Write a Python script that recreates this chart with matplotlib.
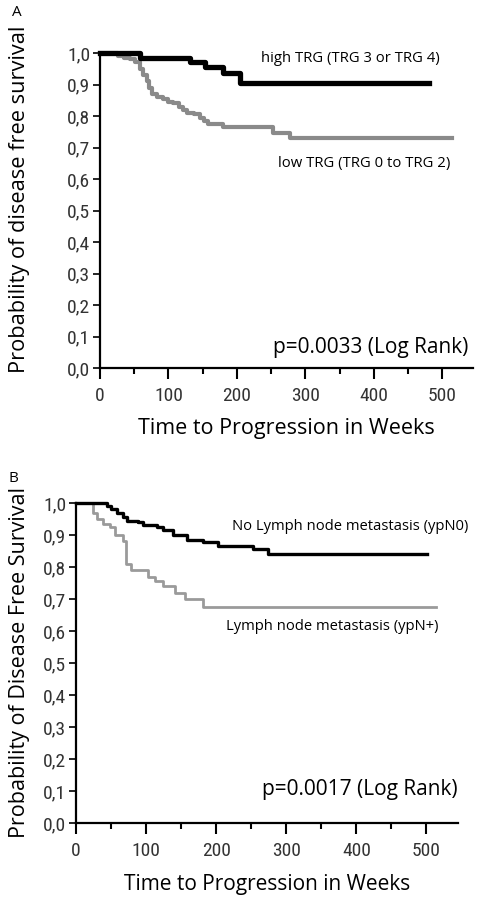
import matplotlib
matplotlib.use("Agg")
import matplotlib.pyplot as plt
from matplotlib.ticker import MultipleLocator, FixedLocator

# panel A: tumour regression grade
a_high_t = [0, 58, 131, 153, 180, 204, 480]
a_high_s = [1.0, 0.985, 0.97, 0.955, 0.935, 0.905, 0.905]
a_low_t = [0, 27, 35, 44, 51, 58, 63, 68, 72, 76, 84, 92, 100, 107, 115, 122,
           127, 138, 146, 152, 158, 180, 253, 278, 514]
a_low_s = [1.0, 0.99, 0.985, 0.98, 0.97, 0.95, 0.93, 0.91, 0.89, 0.87, 0.86,
           0.855, 0.845, 0.84, 0.83, 0.82, 0.81, 0.805, 0.795, 0.785, 0.775,
           0.765, 0.745, 0.73, 0.73]

# panel B: lymph node status
b_high_t = [0, 44, 50, 58, 67, 73, 89, 96, 115, 124, 139, 158, 181, 203, 253, 274, 501]
b_high_s = [1.0, 0.99, 0.98, 0.97, 0.955, 0.945, 0.94, 0.93, 0.925, 0.915, 0.9,
            0.885, 0.878, 0.865, 0.855, 0.84, 0.84]
b_low_t = [0, 24, 30, 39, 48, 55, 67, 72, 79, 103, 113, 124, 141, 156, 181, 513]
b_low_s = [1.0, 0.97, 0.95, 0.935, 0.925, 0.9, 0.88, 0.81, 0.79, 0.77, 0.755,
           0.74, 0.72, 0.70, 0.675, 0.675]

y_ticks = [0.0, 0.1, 0.2, 0.3, 0.4, 0.5, 0.6, 0.7, 0.8, 0.9, 1.0]
y_labels = ["0,0", "0,1", "0,2", "0,3", "0,4", "0,5", "0,6", "0,7", "0,8", "0,9", "1,0"]
x_ticks = [0, 100, 200, 300, 400, 500]

label_font = ["Open Sans", "DejaVu Sans"]
tick_font = ["Roboto Condensed", "DejaVu Sans"]

W, H = 479, 901
fig = plt.figure(figsize=(W / 100, H / 100), dpi=100)


def px_axes(l, r, t, b):
    return fig.add_axes([l / W, 1 - b / H, (r - l) / W, (b - t) / H])


def style(ax):
    ax.set_xlim(0, 545)
    ax.set_ylim(0, 1.0)
    for s in ["top", "right"]:
        ax.spines[s].set_visible(False)
    for s in ["left", "bottom"]:
        ax.spines[s].set_linewidth(1.6)
    ax.yaxis.set_major_locator(FixedLocator(y_ticks))
    ax.set_yticklabels(y_labels, family=tick_font, stretch="condensed",
                       fontsize=14, color="#333333")
    ax.set_xticks(x_ticks)
    ax.set_xticklabels([str(v) for v in x_ticks], family=tick_font,
                       stretch="condensed", fontsize=14, color="#333333")
    ax.xaxis.set_minor_locator(MultipleLocator(50))
    ax.tick_params(axis="y", length=5, width=1.2, pad=2)
    ax.tick_params(axis="x", which="major", length=8, width=1.5, pad=6)
    ax.tick_params(axis="x", which="minor", length=4, width=1.5)


# ---- panel A ----
ax1 = px_axes(100, 473, 53, 368)
style(ax1)
ax1.step(a_low_t, a_low_s, where="post", color="#8a8a8a", lw=3.0, clip_on=False)
ax1.step(a_high_t, a_high_s, where="post", color="black", lw=3.8, clip_on=False)
fig.text(440 / W, 1 - 58 / H, "high TRG (TRG 3 or TRG 4)", ha="right", va="center",
         family=label_font, fontsize=10.7)
fig.text(450 / W, 1 - 163 / H, "low TRG (TRG 0 to TRG 2)", ha="right", va="center",
         family=label_font, fontsize=10.7)
fig.text(468 / W, 1 - 347 / H, "p=0.0033 (Log Rank)", ha="right", va="center",
         family=label_font, fontsize=15)
ax1.set_xlabel("Time to Progression in Weeks", family=label_font, fontsize=15.5,
               labelpad=9)
fig.text(20 / W, 1 - 373 / H, "Probability of disease free survival", rotation=90,
         ha="center", va="bottom", family=label_font, fontsize=15.7)
fig.text(12 / W, 1 - 12 / H, "A", ha="left", va="center", family=label_font, fontsize=11)

# ---- panel B ----
ax2 = px_axes(76, 458, 503, 823)
style(ax2)
ax2.step(b_low_t, b_low_s, where="post", color="#9a9a9a", lw=2.0, clip_on=False)
ax2.step(b_high_t, b_high_s, where="post", color="black", lw=2.4, clip_on=False)
fig.text(468 / W, 1 - 527 / H, "No Lymph node metastasis (ypN0)", ha="right", va="center",
         family=label_font, fontsize=10.6)
fig.text(438 / W, 1 - 626 / H, "Lymph node metastasis (ypN+)", ha="right", va="center",
         family=label_font, fontsize=10.6)
fig.text(458 / W, 1 - 790 / H, "p=0.0017 (Log Rank)", ha="right", va="center",
         family=label_font, fontsize=15)
ax2.set_xlabel("Time to Progression in Weeks", family=label_font, fontsize=15,
               labelpad=10)
fig.text(20 / W, 1 - 663 / H, "Probability of Disease Free Survival", rotation=90,
         ha="center", va="center", family=label_font, fontsize=15.5)
fig.text(8 / W, 1 - 478 / H, "B", ha="left", va="center", family=label_font, fontsize=11)

fig.savefig("out.png", dpi=100)
